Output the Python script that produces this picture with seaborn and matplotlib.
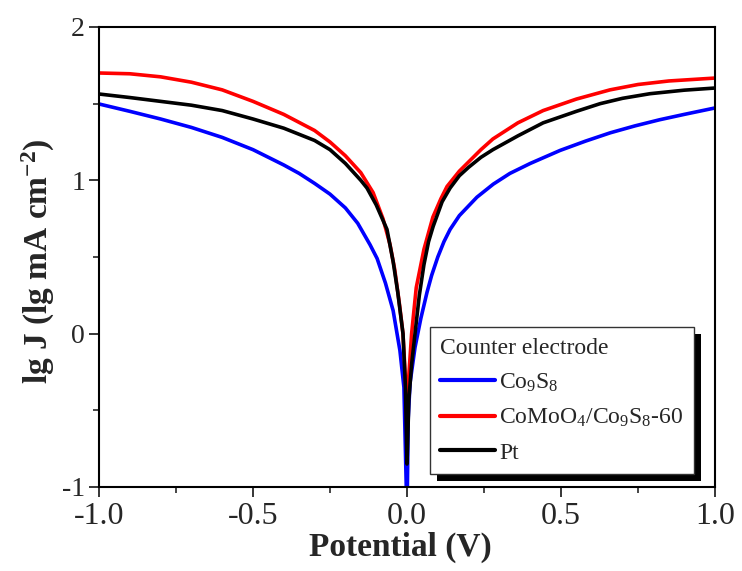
import numpy as np
import pandas as pd
import seaborn as sns
import matplotlib
matplotlib.use("Agg")
import matplotlib.pyplot as plt
from matplotlib.patches import Rectangle
from matplotlib.transforms import IdentityTransform
from matplotlib.ticker import MultipleLocator

# ---- data ----
series_names = ["Co$_9$S$_8$", "CoMoO$_4$/Co$_9$S$_8$-60", "Pt"]
series_colors = ["#0000ff", "#ff0000", "#000000"]

co9s8_x = [-1.0, -0.9, -0.8, -0.7, -0.6, -0.5, -0.4, -0.35, -0.3, -0.25,
           -0.2, -0.16, -0.12, -0.097, -0.07, -0.045, -0.023, -0.01, 0.0,
           0.004, 0.01, 0.026, 0.045, 0.065, 0.08, 0.10, 0.12, 0.14, 0.17,
           0.227, 0.28, 0.334, 0.4, 0.497, 0.58, 0.66, 0.74, 0.82, 0.9, 1.0]
co9s8_y = [1.498, 1.45, 1.40, 1.345, 1.28, 1.20, 1.10, 1.045, 0.98, 0.91,
           0.82, 0.72, 0.58, 0.49, 0.33, 0.15, -0.11, -0.35, -1.2,
           -0.55, -0.32, -0.09, 0.10, 0.27, 0.38, 0.50, 0.60, 0.68, 0.77,
           0.89, 0.975, 1.045, 1.11, 1.195, 1.256, 1.31, 1.355, 1.395, 1.43, 1.472]

comoo_x = [-1.0, -0.9, -0.8, -0.7, -0.6, -0.5, -0.4, -0.3, -0.25, -0.2,
           -0.15, -0.11, -0.078, -0.055, -0.04, -0.025, -0.013, -0.005, 0.0,
           0.005, 0.015, 0.03, 0.055, 0.084, 0.11, 0.13, 0.17, 0.2, 0.24,
           0.279, 0.36, 0.442, 0.55, 0.659, 0.75, 0.85, 1.0]
comoo_y = [1.70, 1.695, 1.675, 1.64, 1.59, 1.515, 1.43, 1.325, 1.25, 1.16,
           1.05, 0.92, 0.75, 0.58, 0.42, 0.20, 0.0, -0.3, -0.6,
           -0.3, 0.0, 0.30, 0.55, 0.76, 0.88, 0.96, 1.06, 1.12, 1.20,
           1.27, 1.375, 1.455, 1.53, 1.59, 1.625, 1.648, 1.667]

pt_x = [-1.0, -0.9, -0.8, -0.7, -0.6, -0.5, -0.4, -0.3, -0.25, -0.2,
        -0.15, -0.13, -0.1, -0.065, -0.045, -0.03, -0.013, -0.005, 0.0,
        0.006, 0.015, 0.026, 0.04, 0.055, 0.07, 0.085, 0.114, 0.14, 0.17,
        0.2, 0.24, 0.279, 0.36, 0.442, 0.55, 0.627, 0.7, 0.789, 0.9, 1.0]
pt_y = [1.563, 1.54, 1.515, 1.49, 1.455, 1.40, 1.34, 1.26, 1.20, 1.11,
        1.00, 0.95, 0.84, 0.68, 0.47, 0.27, 0.0, -0.35, -0.85,
        -0.43, -0.2, 0.0, 0.25, 0.45, 0.60, 0.70, 0.86, 0.95, 1.03,
        1.085, 1.15, 1.20, 1.29, 1.375, 1.45, 1.50, 1.535, 1.565, 1.588, 1.602]

x_ticks = [-1.0, -0.5, 0.0, 0.5, 1.0]
y_ticks = [-1, 0, 1, 2]

frames = []
for name, xs, ys in zip(series_names, [co9s8_x, comoo_x, pt_x], [co9s8_y, comoo_y, pt_y]):
    frames.append(pd.DataFrame({"Potential": xs, "lgJ": ys, "CE": name}))
df = pd.concat(frames, ignore_index=True)

# ---- style ----
sns.set_style("ticks")
plt.rcParams["font.family"] = ["Liberation Serif", "DejaVu Serif"]
plt.rcParams["mathtext.fontset"] = "custom"
plt.rcParams["mathtext.rm"] = "Liberation Serif"
plt.rcParams["mathtext.it"] = "Liberation Serif:italic"
plt.rcParams["mathtext.bf"] = "Liberation Serif:bold"
plt.rcParams["axes.unicode_minus"] = False

fig = plt.figure(figsize=(7.42, 5.71), dpi=100)
ax = fig.add_axes([99 / 742, 1 - 487 / 571, 616 / 742, 460 / 571])

sns.lineplot(data=df, x="Potential", y="lgJ", hue="CE", hue_order=series_names,
             palette=series_colors, sort=False, estimator=None, units="CE",
             linewidth=2.6, ax=ax)

ax.set_xlim(-1.0, 1.0)
ax.set_ylim(-1, 2)
ax.set_xticks(x_ticks)
ax.set_xticklabels([f"{v:.1f}" for v in x_ticks])
ax.set_yticks(y_ticks)
ax.set_yticklabels([str(v) for v in y_ticks])
ax.xaxis.set_minor_locator(MultipleLocator(0.25))
ax.yaxis.set_minor_locator(MultipleLocator(0.5))
ax.tick_params(which="major", direction="out", length=7, width=1.3,
               top=False, right=False, pad=3)
ax.tick_params(axis="x", which="major", labelsize=23, pad=4)
ax.tick_params(axis="y", which="major", labelsize=20, pad=3)
ax.tick_params(which="minor", direction="out", length=4, width=1.2, top=False, right=False)
for s in ax.spines.values():
    s.set_linewidth(1.5)
    s.set_color("black")

ax.set_xlabel("Potential (V)", fontsize=24, fontweight="bold")
ax.set_ylabel(r"lg J (lg mA cm$^{\mathbf{-2}}$)", fontsize=24, fontweight="bold")
ax.xaxis.set_label_coords(0.49, -0.097)
ax.yaxis.set_label_coords(-0.068, 0.49)

handles, labels = ax.get_legend_handles_labels()
for h in handles:
    h.set_linewidth(3)
leg = ax.legend(handles, labels, title="Counter electrode", loc="upper left",
                bbox_to_anchor=(0.537, 0.348), borderaxespad=0, fontsize=17,
                title_fontsize=17, frameon=True, fancybox=False, framealpha=1,
                edgecolor="#333333", handlelength=2.3, handletextpad=0.2,
                labelspacing=0.55, borderpad=0.45, alignment="left")
leg.get_frame().set_linewidth(1.0)
leg.set_zorder(6)

fig.canvas.draw()
bb = leg.get_window_extent()
shadow = Rectangle((bb.x0 + 7, bb.y0 - 7), bb.width, bb.height, transform=IdentityTransform(),
                   facecolor="black", edgecolor="none", zorder=5.5)
ax.add_artist(shadow)

fig.savefig("out.png", dpi=100)
